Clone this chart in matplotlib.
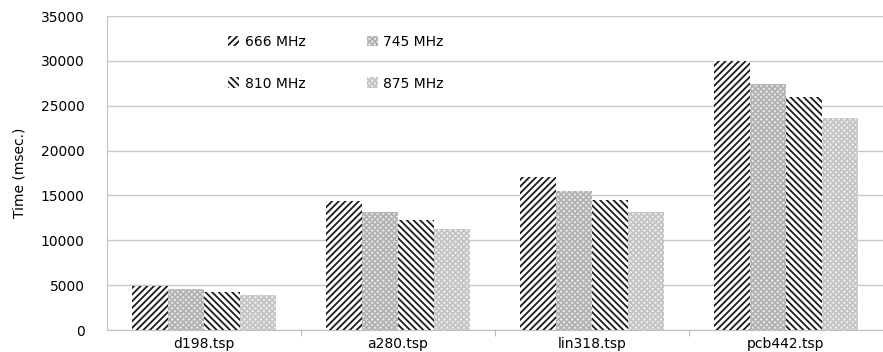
import numpy as np
import matplotlib
matplotlib.use("Agg")
import matplotlib.pyplot as plt

categories = ["d198.tsp", "a280.tsp", "lin318.tsp", "pcb442.tsp"]
labels = ["666 MHz", "745 MHz", "810 MHz", "875 MHz"]
t666 = [4950, 14400, 17000, 30000]
t745 = [4600, 13100, 15500, 27400]
t810 = [4200, 12300, 14500, 26000]
t875 = [3900, 11300, 13200, 23600]

series = [t666, t745, t810, t875]
hatches = ["/////", "xxxxxx", "\\\\\\\\\\", "xxxxxx"]
faces = ["white", "#e8e8e8", "white", "#efefef"]
hcolors = ["#1a1a1a", "#b2b2b2", "#1a1a1a", "#c4c4c4"]

plt.rcParams["font.family"] = "DejaVu Sans"
plt.rcParams["hatch.linewidth"] = 1.3

fig = plt.figure(figsize=(8.83, 3.52), dpi=100)
ax = fig.add_axes([0.121, 0.0625, 0.879, 0.892])

x = np.arange(len(categories))
w = 0.185
bars = []
for i, vals in enumerate(series):
    b = ax.bar(x + (i - 1.5) * w, vals, w, color=faces[i], edgecolor=hcolors[i],
               hatch=hatches[i], linewidth=0, label=labels[i], zorder=3)
    bars.append(b)

ax.set_xlim(-0.5, 3.5)
ax.set_ylim(0, 35000)
ax.set_yticks(range(0, 35001, 5000))
ax.grid(axis="y", color="#c8c8c8", linewidth=1, zorder=0)
ax.set_axisbelow(True)

ax.set_xticks([0.5, 1.5, 2.5], minor=False)
ax.set_xticklabels([])
ax.set_xticks(x, minor=True)
ax.set_xticklabels(categories, minor=True, fontsize=10)
ax.tick_params(axis="x", which="minor", length=0, pad=5)
ax.tick_params(axis="x", which="major", length=4, color="#bbbbbb")
ax.tick_params(axis="y", length=0, labelsize=10, pad=16)

for s in ["top", "right"]:
    ax.spines[s].set_visible(False)
ax.spines["left"].set_color("#c0c0c0")
ax.spines["bottom"].set_color("#c0c0c0")

ax.set_ylabel("Time (msec.)", fontsize=10, labelpad=10)

# row-wise legend: 666 745 / 810 875
order = [0, 2, 1, 3]
ax.legend([bars[i] for i in order], [labels[i] for i in order],
          ncol=2, frameon=False, fontsize=10, loc="upper left",
          bbox_to_anchor=(0.14, 0.98), handlelength=0.8, handleheight=0.8,
          handletextpad=0.4, labelspacing=2.0, columnspacing=4.4)

fig.savefig("out.png", dpi=100)
